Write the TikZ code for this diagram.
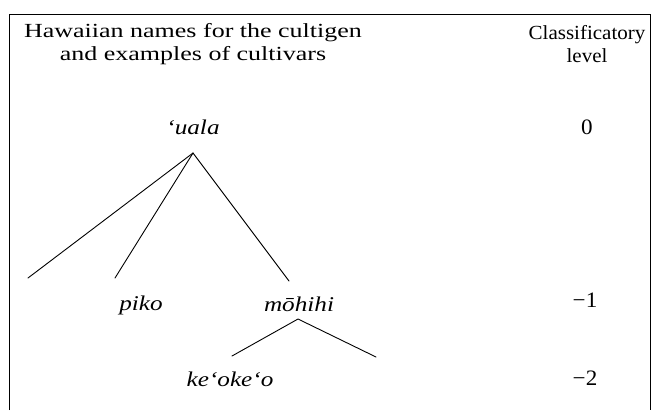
\documentclass[tikz,border=0pt]{standalone}
\usepackage{fontspec}
\setmainfont[FakeStretch=1.12]{Liberation Serif}
\newfontfamily\hdfont[FakeStretch=1.3]{Liberation Serif}
\newfontfamily\rhfont[FakeStretch=1.05]{Liberation Serif}
\newfontfamily\itfont[FakeStretch=1.2]{Liberation Serif}
\begin{document}
\begin{tikzpicture}[x=1pt,y=-1pt,
  txt/.style={font=\fontsize{20}{23}\selectfont, inner sep=0pt, align=center},
  hdl/.style={txt, font=\hdfont\fontsize{20}{23}\selectfont},
  hdr/.style={txt, font=\rhfont\fontsize{20}{23}\selectfont},
  num/.style={txt, font=\rhfont\fontsize{22}{24}\selectfont},
  itx/.style={txt, font=\itfont\fontsize{21}{23}\selectfont\itshape},
  edge/.style={line width=0.9pt, line cap=round}]
\useasboundingbox (0,0) rectangle (652,410);
\draw[line width=1pt] (9,410) -- (9,14) -- (650,14) -- (650,410);
\node[hdl] (h1) at (193,44) {Hawaiian names for the cultigen\\and examples of cultivars};
\node[hdr] (h2) at (587,44) {Classificatory\\level};
\node[itx] (uala) at (193,127) {‘uala};
\node[num] (l0) at (587,127) {0};
\node[itx] (piko) at (141,305) {piko};
\node[itx] (mohihi) at (299,304) {mōhihi};
\node[num] (l1) at (585,300) {−1};
\node[itx] (keoke) at (230,379) {ke‘oke‘o};
\node[num] (l2) at (585,378) {−2};
\coordinate (apex) at (193,153);
\coordinate (e1) at (28,278);
\coordinate (e2) at (115,278);
\coordinate (e3) at (289,281);
\coordinate (apex2) at (298,319);
\coordinate (f1) at (232,356);
\coordinate (f2) at (376,357);
\draw[edge] (e1) -- (apex) -- (e3);
\draw[edge] (apex) -- (e2);
\draw[edge] (f1) -- (apex2) -- (f2);
\end{tikzpicture}
\end{document}
